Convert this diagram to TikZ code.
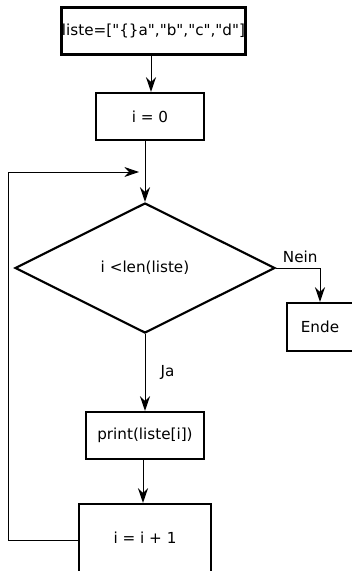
\documentclass[tikz,border=0pt]{standalone}
\usepackage{fontspec}
\setmainfont{DejaVu Sans}[Ligatures=TeXOff]
\usetikzlibrary{shapes.geometric,arrows.meta}

\tikzset{
  box/.style={draw, line width=1.6pt, inner sep=0pt, font=\fontsize{11.4}{13}\selectfont},
  cond/.style={diamond, draw, line width=1.6pt, inner sep=0pt, aspect=2, font=\fontsize{11.4}{13}\selectfont},
  flow/.style={line width=0.75pt, -{Stealth[length=11pt, width=7.5pt, inset=3.5pt]}},
  lbl/.style={font=\fontsize{11.4}{13}\selectfont}
}

\begin{document}
\begin{tikzpicture}[x=0.75pt, y=-0.75pt]
                \useasboundingbox (0,0) rectangle (352,571);
                \clip (0,0) rectangle (352,571);
                \node[box, minimum width=132.75pt, minimum height=34.5pt] (liste) at (153.5,31) {liste=["\{\}a","b","c","d"]};
                \draw[line width=1.6pt] (liste.south west) rectangle (liste.north east);
                \node[box, minimum width=81pt, minimum height=35.25pt] (init) at (150,116.5) {i = 0};
                \node[cond, minimum width=195pt, minimum height=97.5pt] (test) at (145,268) {i <len(liste)};
                \node[box, minimum width=49.5pt, minimum height=36pt] (ende) at (320,327) {Ende};
                \node[box, minimum width=88.5pt, minimum height=35.25pt] (print) at (145,435.5) {print(liste[i])};
                \node[box, minimum width=99pt, minimum height=51pt] (inc) at (145,538) {i = i + 1};
                \coordinate (loopin) at (139,172);
                \draw[flow] (liste.south -| 151,0) -- (init.north -| 151,0);
                \draw[flow] (init.south -| test.north) -- (test.north);
                \draw[flow] (test.east) -- (320,268) node[lbl, pos=0.55, above] {Nein} -- (ende.north);
                \draw[flow] (test.south) -- (print.north) node[lbl, pos=0.5, right=8pt] {Ja};
                \draw[flow] (print.south -| 143,0) -- (inc.north -| 143,0);
                \draw[flow] (inc.west |- 0,540) -- (8,540) -- (8,172) -- (loopin);
            \end{tikzpicture}
\end{document}
